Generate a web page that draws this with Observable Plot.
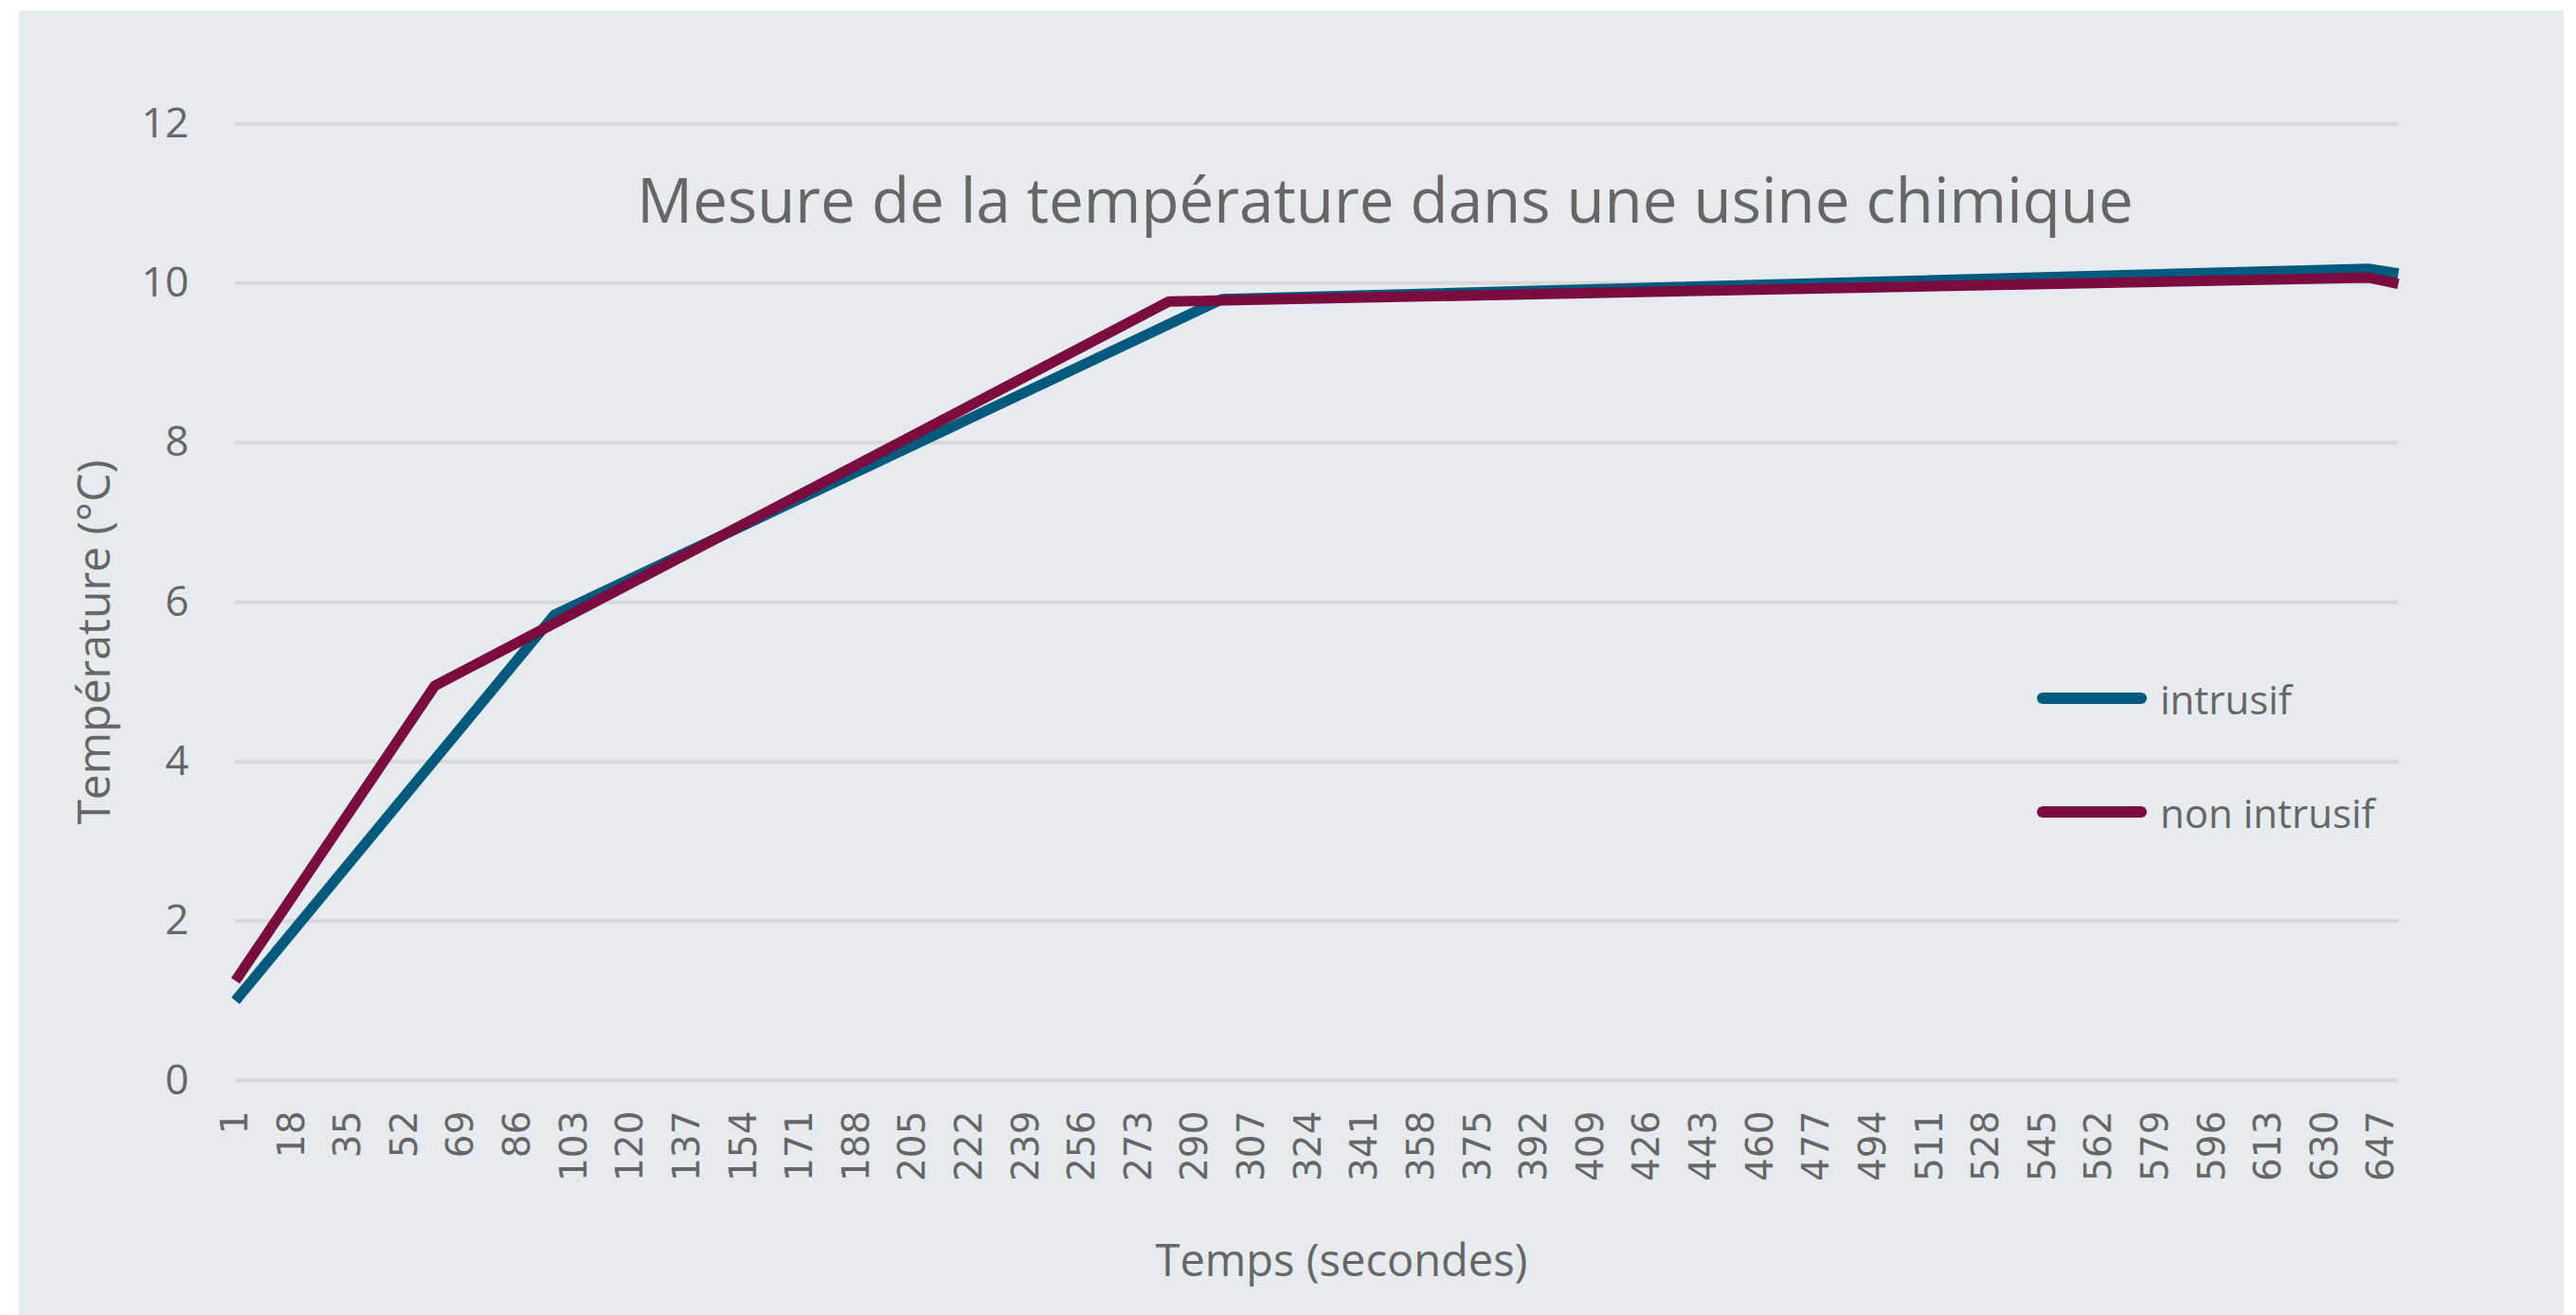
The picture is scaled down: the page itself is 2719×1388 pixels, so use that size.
<!DOCTYPE html>
<html><head><meta charset="utf-8">
<script src="https://cdn.jsdelivr.net/npm/d3@7"></script>
<script src="https://cdn.jsdelivr.net/npm/@observablehq/plot@0.6"></script>
<style>
html,body{margin:0;padding:0;background:#fff;}
#wrap{position:relative;width:2719px;height:1388px;background:#fff;overflow:hidden}
#panel{position:absolute;left:20px;top:11px;width:2686px;height:1377px;background:#E6EBEF}
#panel svg{display:block}
</style>
</head><body>
<div id="wrap"><div id="panel"></div></div>
<script>
const chartTitle = "Mesure de la température dans une usine chimique";
const xLabel = "Temps (secondes)";
const yLabel = "Température (°C)";
const seriesNames = ["intrusif", "non intrusif"];
const seriesColors = ["#005A7D", "#7B0C40"];
const intrusifTime = [1, 97, 298, 643, 652];
const intrusifTemp = [1.0, 5.84, 9.8, 10.18, 10.12];
const nonIntrusifTime = [1, 61, 282, 643, 652];
const nonIntrusifTemp = [1.25, 4.95, 9.77, 10.07, 9.99];
const xTicks = [1,18,35,52,69,86,103,120,137,154,171,188,205,222,239,256,273,290,307,324,341,358,375,392,409,426,443,460,477,494,511,528,545,562,579,596,613,630,647];
const yTicks = [0,2,4,6,8,10,12];

const rows = [
  ...intrusifTime.map((t, i) => ({series: seriesNames[0], time: t, temp: intrusifTemp[i]})),
  ...nonIntrusifTime.map((t, i) => ({series: seriesNames[1], time: t, temp: nonIntrusifTemp[i]}))
];

const W = 2686, H = 1377;
const chart = Plot.plot({
  width: W, height: H,
  marginLeft: 228, marginRight: 175, marginTop: 119, marginBottom: 248,
  style: {background: "transparent", color: "#666", fontFamily: "Open Sans"},
  x: {type: "linear", domain: [1, 652]},
  y: {domain: [0, 12]},
  color: {domain: seriesNames, range: seriesColors},
  marks: [
    Plot.gridY(yTicks, {stroke: "#D9D9D9", strokeWidth: 4, strokeOpacity: 1}),
    Plot.axisY(yTicks, {tickSize: 0, tickPadding: 49, tickFormat: d => String(d), fontSize: 44, fontFamily: "Open Sans", fill: "#666", label: null}),
    Plot.axisX(xTicks, {tickSize: 0, tickPadding: 32, tickRotate: -90, tickFormat: d => String(d), fontSize: 39, fontFamily: "DejaVu Sans", fill: "#666", label: null}),
    Plot.line(rows, {x: "time", y: "temp", z: "series", stroke: "series", strokeWidth: 11, strokeLinejoin: "round", strokeLinecap: "butt"})
  ]
});
document.getElementById("panel").appendChild(chart);

const svg = d3.select(chart);
const g = svg.append("g").attr("fill", "#666").attr("font-family", "Open Sans");
// title
g.append("text").attr("x", 1442).attr("y", 224).attr("text-anchor", "middle")
  .attr("font-size", 65.5).text(chartTitle);
// axis titles
g.append("text").attr("transform", "translate(77,667) rotate(-90)").attr("text-anchor", "middle")
  .attr("dominant-baseline", "central").attr("font-size", 48).text(yLabel);
g.append("text").attr("x", 1396).attr("y", 1336).attr("text-anchor", "middle")
  .attr("font-size", 47).text(xLabel);
// legend
const leg = g.append("g");
seriesNames.forEach((name, i) => {
  const y = 726 + i * 120;
  leg.append("line").attr("x1", 2136).attr("x2", 2240).attr("y1", y).attr("y2", y)
    .attr("stroke", seriesColors[i]).attr("stroke-width", 12).attr("stroke-linecap", "round");
  leg.append("text").attr("x", 2260).attr("y", y).attr("text-anchor", "start").attr("dominant-baseline", "central")
    .attr("font-size", 42).text(name);
});
</script>
</body></html>
